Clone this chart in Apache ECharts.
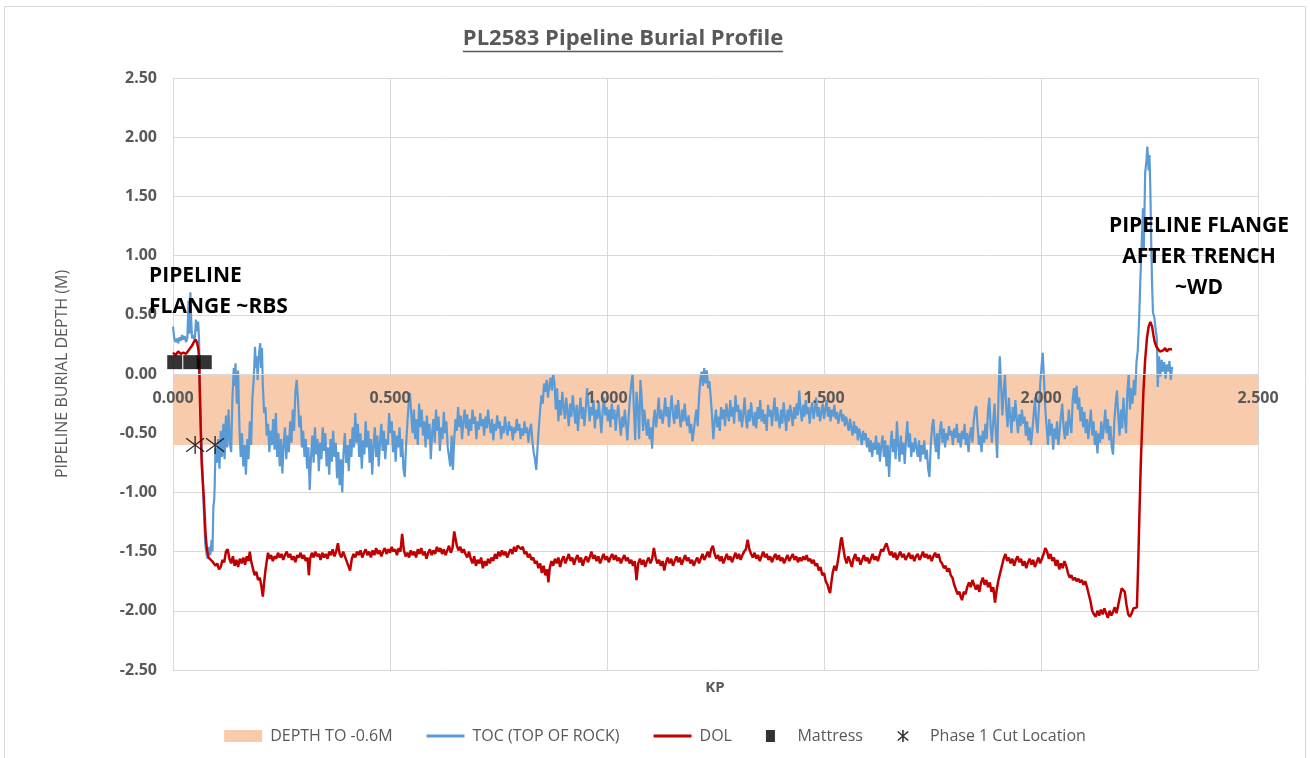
<!DOCTYPE html>
<html>
<head>
<meta charset="utf-8">
<script src="https://cdn.jsdelivr.net/npm/echarts@6/dist/echarts.min.js"></script>
<style>
  html, body { margin: 0; padding: 0; background: #ffffff; }
  #chart { width: 1310px; height: 758px; }
</style>
</head>
<body>
<div id="chart"></div>
<script>
// ---- Survey data (KP in km, depth in m relative to seabed) ----

// Top of rock along the route
const tocProfile = [
  [0.000,0.40],[0.003,0.30],[0.006,0.27],[0.009,0.30],[0.012,0.26],[0.015,0.31],[0.018,0.28],[0.021,0.33],
  [0.024,0.29],[0.027,0.32],[0.030,0.27],[0.033,0.30],[0.036,0.62],[0.038,0.34],[0.040,0.69],[0.042,0.45],
  [0.044,0.30],[0.047,0.33],[0.050,0.28],[0.053,0.46],[0.056,0.36],[0.058,0.44],[0.060,0.30],
  [0.062,-0.10],[0.065,-0.55],[0.068,-0.82],[0.071,-1.15],[0.074,-1.42],[0.077,-1.52],[0.080,-1.56],
  [0.083,-1.46],[0.086,-1.53],[0.089,-1.40],[0.091,-1.50],[0.093,-1.12],[0.095,-1.06],[0.096,-0.95],
  [0.098,-0.62],[0.101,-0.75],[0.104,-0.55],[0.107,-0.80],[0.110,-0.48],[0.113,-0.70],[0.116,-0.42],
  [0.119,-0.72],[0.122,-0.35],[0.125,-0.62],[0.128,-0.30],[0.131,-0.58],[0.134,-0.66],[0.137,-0.20],
  [0.140,0.05],[0.142,-0.10],[0.144,0.09],[0.147,-0.25],[0.150,0.03],[0.153,-0.45],[0.156,-0.70],
  [0.159,-0.50],[0.162,-0.78],[0.165,-0.60],[0.168,-0.85],[0.171,-0.55],[0.174,-0.72],[0.177,-0.40],
  [0.180,-0.60],[0.183,-0.20],[0.186,-0.05],[0.189,0.23],[0.191,0.05],[0.193,0.15],[0.195,-0.05],
  [0.197,0.10],[0.199,0.20],[0.201,0.26],[0.203,0.05],[0.205,0.22],[0.207,-0.10],[0.210,-0.33],
  [0.213,-0.28],[0.216,-0.52],[0.219,-0.42],[0.222,-0.66],[0.225,-0.48],[0.228,-0.60],[0.231,-0.38],
  [0.234,-0.64],[0.237,-0.33],[0.240,-0.70],[0.243,-0.50],[0.246,-0.78],[0.249,-0.55],[0.252,-0.84],
  [0.255,-0.60],[0.258,-0.45],[0.261,-0.72],[0.264,-0.52],[0.267,-0.66],[0.270,-0.40],[0.273,-0.58],
  [0.276,-0.30],[0.279,-0.48],[0.282,-0.15],[0.285,-0.05],[0.288,-0.22],[0.291,-0.45],[0.294,-0.35],
  [0.297,-0.62],[0.300,-0.48],[0.303,-0.70],[0.306,-0.55],[0.309,-0.80],[0.312,-0.62],[0.315,-0.98],
  [0.318,-0.70],[0.321,-0.52],[0.324,-0.75],[0.327,-0.45],[0.330,-0.68],[0.333,-0.55],[0.336,-0.82],
  [0.339,-0.58],[0.342,-0.72],[0.345,-0.45],[0.348,-0.65],[0.351,-0.50],[0.354,-0.78],[0.357,-0.62],
  [0.360,-0.85],[0.363,-0.55],[0.366,-0.74],[0.369,-0.48],[0.372,-0.70],[0.375,-0.58],[0.378,-0.88],
  [0.381,-0.66],[0.384,-0.94],[0.387,-0.72],[0.390,-1.00],[0.393,-0.65],[0.396,-0.50],[0.399,-0.75],
  [0.402,-0.60],[0.405,-0.82],[0.408,-0.55],[0.411,-0.70],[0.414,-0.45],[0.417,-0.62],[0.420,-0.33],
  [0.423,-0.58],[0.426,-0.42],[0.429,-0.70],[0.432,-0.50],[0.435,-0.80],[0.438,-0.56],[0.441,-0.68],
  [0.444,-0.40],[0.447,-0.62],[0.450,-0.48],[0.453,-0.75],[0.456,-0.55],[0.459,-0.85],[0.462,-0.60],
  [0.465,-0.45],[0.468,-0.70],[0.471,-0.52],[0.474,-0.78],[0.477,-0.58],[0.480,-0.42],[0.483,-0.65],
  [0.486,-0.48],[0.489,-0.72],[0.492,-0.55],[0.495,-0.60],[0.498,-0.33],[0.501,-0.50],[0.504,-0.40],
  [0.507,-0.66],[0.510,-0.48],[0.513,-0.74],[0.516,-0.52],[0.519,-0.62],[0.522,-0.45],[0.525,-0.70],
  [0.528,-0.55],[0.531,-0.80],[0.534,-0.87],[0.537,-0.60],[0.540,-0.42],[0.543,-0.25],[0.546,-0.16],
  [0.549,-0.35],[0.552,-0.50],[0.555,-0.30],[0.558,-0.55],[0.561,-0.38],[0.564,-0.60],[0.567,-0.25],
  [0.570,-0.45],[0.573,-0.30],[0.576,-0.52],[0.579,-0.40],[0.582,-0.62],[0.585,-0.35],[0.588,-0.55],
  [0.591,-0.42],[0.594,-0.72],[0.597,-0.50],[0.600,-0.38],[0.603,-0.58],[0.606,-0.30],[0.609,-0.48],
  [0.612,-0.36],[0.615,-0.65],[0.618,-0.45],[0.621,-0.55],[0.624,-0.32],[0.627,-0.50],[0.630,-0.40],
  [0.633,-0.62],[0.636,-0.70],[0.639,-0.78],[0.642,-0.52],[0.645,-0.81],[0.648,-0.55],[0.651,-0.38],
  [0.654,-0.48],[0.657,-0.28],[0.660,-0.45],[0.663,-0.35],[0.666,-0.55],[0.669,-0.40],[0.672,-0.30],
  [0.675,-0.46],[0.678,-0.34],[0.681,-0.52],[0.684,-0.38],[0.687,-0.48],[0.690,-0.30],[0.693,-0.42],
  [0.696,-0.36],[0.699,-0.55],[0.702,-0.40],[0.705,-0.47],[0.708,-0.33],[0.711,-0.44],[0.714,-0.38],
  [0.717,-0.52],[0.720,-0.36],[0.723,-0.46],[0.726,-0.30],[0.729,-0.42],[0.732,-0.50],[0.735,-0.38],
  [0.738,-0.56],[0.741,-0.42],[0.744,-0.48],[0.747,-0.35],[0.750,-0.46],[0.753,-0.40],[0.756,-0.55],
  [0.759,-0.44],[0.762,-0.50],[0.765,-0.36],[0.768,-0.46],[0.771,-0.52],[0.774,-0.40],[0.777,-0.48],
  [0.780,-0.44],[0.783,-0.56],[0.786,-0.45],[0.789,-0.50],[0.792,-0.38],[0.795,-0.48],[0.798,-0.42],
  [0.801,-0.55],[0.804,-0.46],[0.807,-0.52],[0.810,-0.40],[0.813,-0.50],[0.816,-0.45],[0.819,-0.58],
  [0.822,-0.48],[0.825,-0.42],[0.828,-0.56],[0.831,-0.66],[0.834,-0.72],[0.837,-0.81],[0.840,-0.62],
  [0.843,-0.45],[0.846,-0.30],[0.849,-0.18],[0.852,-0.25],[0.855,-0.08],[0.858,-0.15],[0.861,-0.05],
  [0.864,-0.20],[0.867,-0.10],[0.870,-0.03],[0.873,-0.14],[0.876,0.00],[0.879,-0.08],[0.882,-0.30],
  [0.885,-0.12],[0.888,-0.40],[0.891,-0.22],[0.894,-0.35],[0.897,-0.15],[0.900,-0.28],[0.903,-0.38],
  [0.906,-0.20],[0.909,-0.32],[0.912,-0.44],[0.915,-0.25],[0.918,-0.36],[0.921,-0.18],[0.924,-0.30],
  [0.927,-0.42],[0.930,-0.26],[0.933,-0.48],[0.936,-0.32],[0.939,-0.20],[0.942,-0.38],[0.945,-0.28],
  [0.948,-0.44],[0.951,-0.30],[0.954,-0.12],[0.957,-0.25],[0.960,-0.40],[0.963,-0.28],[0.966,-0.35],
  [0.969,-0.22],[0.972,-0.46],[0.975,-0.30],[0.978,-0.38],[0.981,-0.24],[0.984,-0.36],[0.987,-0.50],
  [0.990,-0.32],[0.993,-0.20],[0.996,-0.35],[0.999,-0.28],[1.002,-0.40],[1.005,-0.30],[1.008,-0.45],
  [1.011,-0.25],[1.014,-0.38],[1.017,-0.30],[1.020,-0.48],[1.023,-0.34],[1.026,-0.26],[1.029,-0.40],
  [1.032,-0.52],[1.035,-0.36],[1.038,-0.45],[1.041,-0.30],[1.044,-0.42],[1.047,-0.56],[1.050,-0.35],
  [1.053,-0.20],[1.056,-0.08],[1.059,0.00],[1.062,-0.30],[1.065,-0.56],[1.068,-0.15],[1.071,-0.28],
  [1.074,-0.55],[1.077,-0.05],[1.080,-0.20],[1.083,-0.48],[1.086,-0.30],[1.089,-0.42],[1.092,-0.52],
  [1.095,-0.38],[1.098,-0.55],[1.101,-0.45],[1.104,-0.63],[1.107,-0.40],[1.110,-0.30],[1.113,-0.45],
  [1.116,-0.35],[1.119,-0.20],[1.122,-0.38],[1.125,-0.30],[1.128,-0.42],[1.131,-0.34],[1.134,-0.20],
  [1.137,-0.36],[1.140,-0.28],[1.143,-0.45],[1.146,-0.30],[1.149,-0.18],[1.152,-0.34],[1.155,-0.42],
  [1.158,-0.26],[1.161,-0.38],[1.164,-0.22],[1.167,-0.36],[1.170,-0.45],[1.173,-0.30],[1.176,-0.40],
  [1.179,-0.25],[1.182,-0.38],[1.185,-0.44],[1.188,-0.35],[1.191,-0.50],[1.194,-0.42],[1.197,-0.57],
  [1.200,-0.48],[1.203,-0.38],[1.206,-0.30],[1.209,-0.44],[1.212,-0.20],[1.215,-0.05],[1.218,0.02],
  [1.221,-0.10],[1.224,0.05],[1.227,-0.08],[1.230,0.03],[1.233,-0.12],[1.236,-0.06],[1.239,-0.20],
  [1.242,-0.35],[1.245,-0.55],[1.248,-0.40],[1.251,-0.30],[1.254,-0.45],[1.257,-0.36],[1.260,-0.48],
  [1.263,-0.28],[1.266,-0.38],[1.269,-0.30],[1.272,-0.44],[1.275,-0.25],[1.278,-0.34],[1.281,-0.40],
  [1.284,-0.22],[1.287,-0.36],[1.290,-0.28],[1.293,-0.42],[1.296,-0.18],[1.299,-0.32],[1.302,-0.26],
  [1.305,-0.40],[1.308,-0.30],[1.311,-0.45],[1.314,-0.34],[1.317,-0.20],[1.320,-0.38],[1.323,-0.46],
  [1.326,-0.30],[1.329,-0.40],[1.332,-0.24],[1.335,-0.36],[1.338,-0.44],[1.341,-0.32],[1.344,-0.46],
  [1.347,-0.28],[1.350,-0.38],[1.353,-0.22],[1.356,-0.40],[1.359,-0.30],[1.362,-0.42],[1.365,-0.34],
  [1.368,-0.48],[1.371,-0.26],[1.374,-0.36],[1.377,-0.30],[1.380,-0.44],[1.383,-0.32],[1.386,-0.20],
  [1.389,-0.40],[1.392,-0.28],[1.395,-0.38],[1.398,-0.46],[1.401,-0.30],[1.404,-0.42],[1.407,-0.24],
  [1.410,-0.36],[1.413,-0.48],[1.416,-0.30],[1.419,-0.40],[1.422,-0.26],[1.425,-0.34],[1.428,-0.44],
  [1.431,-0.28],[1.434,-0.38],[1.437,-0.25],[1.440,-0.35],[1.443,-0.14],[1.446,-0.30],[1.449,-0.40],
  [1.452,-0.26],[1.455,-0.36],[1.458,-0.22],[1.461,-0.34],[1.464,-0.28],[1.467,-0.42],[1.470,-0.30],
  [1.473,-0.24],[1.476,-0.38],[1.479,-0.30],[1.482,-0.20],[1.485,-0.36],[1.488,-0.28],[1.491,-0.40],
  [1.494,-0.32],[1.497,-0.25],[1.500,-0.38],[1.503,-0.30],[1.506,-0.22],[1.509,-0.36],[1.512,-0.28],
  [1.515,-0.40],[1.518,-0.30],[1.521,-0.36],[1.524,-0.26],[1.527,-0.38],[1.530,-0.32],[1.533,-0.42],
  [1.536,-0.35],[1.539,-0.30],[1.542,-0.40],[1.545,-0.34],[1.548,-0.44],[1.551,-0.36],[1.554,-0.42],
  [1.557,-0.48],[1.560,-0.38],[1.563,-0.46],[1.566,-0.52],[1.569,-0.40],[1.572,-0.50],[1.575,-0.44],
  [1.578,-0.56],[1.581,-0.46],[1.584,-0.52],[1.587,-0.60],[1.590,-0.48],[1.593,-0.56],[1.596,-0.50],
  [1.599,-0.62],[1.602,-0.54],[1.605,-0.66],[1.608,-0.56],[1.611,-0.70],[1.614,-0.58],[1.617,-0.64],
  [1.620,-0.52],[1.623,-0.68],[1.626,-0.58],[1.629,-0.74],[1.632,-0.60],[1.635,-0.52],[1.638,-0.70],
  [1.641,-0.56],[1.644,-0.78],[1.647,-0.60],[1.650,-0.87],[1.653,-0.62],[1.656,-0.48],[1.659,-0.66],
  [1.662,-0.55],[1.665,-0.72],[1.668,-0.40],[1.671,-0.60],[1.674,-0.74],[1.677,-0.52],[1.680,-0.68],
  [1.683,-0.58],[1.686,-0.76],[1.689,-0.55],[1.692,-0.40],[1.695,-0.62],[1.698,-0.50],[1.701,-0.70],
  [1.704,-0.58],[1.707,-0.66],[1.710,-0.54],[1.713,-0.62],[1.716,-0.70],[1.719,-0.56],[1.722,-0.74],
  [1.725,-0.60],[1.728,-0.68],[1.731,-0.56],[1.734,-0.72],[1.737,-0.64],[1.740,-0.80],[1.743,-0.87],
  [1.746,-0.60],[1.749,-0.45],[1.752,-0.38],[1.755,-0.55],[1.758,-0.66],[1.761,-0.50],[1.764,-0.72],
  [1.767,-0.48],[1.770,-0.40],[1.773,-0.58],[1.776,-0.46],[1.779,-0.62],[1.782,-0.50],[1.785,-0.56],
  [1.788,-0.44],[1.791,-0.52],[1.794,-0.48],[1.797,-0.60],[1.800,-0.46],[1.803,-0.54],[1.806,-0.42],
  [1.809,-0.58],[1.812,-0.50],[1.815,-0.62],[1.818,-0.48],[1.821,-0.55],[1.824,-0.42],[1.827,-0.60],
  [1.830,-0.50],[1.833,-0.66],[1.836,-0.52],[1.839,-0.45],[1.842,-0.58],[1.845,-0.40],[1.848,-0.30],
  [1.851,-0.27],[1.854,-0.45],[1.857,-0.60],[1.860,-0.52],[1.863,-0.66],[1.866,-0.48],[1.869,-0.58],
  [1.872,-0.42],[1.875,-0.55],[1.878,-0.30],[1.881,-0.20],[1.884,-0.45],[1.887,-0.58],[1.890,-0.40],
  [1.893,-0.25],[1.896,-0.50],[1.899,-0.71],[1.902,-0.20],[1.905,0.15],[1.908,-0.10],[1.911,-0.35],
  [1.914,-0.15],[1.917,0.00],[1.920,-0.30],[1.923,-0.45],[1.926,-0.20],[1.929,-0.36],[1.932,-0.50],
  [1.935,-0.28],[1.938,-0.40],[1.941,-0.22],[1.944,-0.38],[1.947,-0.50],[1.950,-0.34],[1.953,-0.44],
  [1.956,-0.30],[1.959,-0.42],[1.962,-0.36],[1.965,-0.52],[1.968,-0.40],[1.971,-0.56],[1.974,-0.45],
  [1.977,-0.60],[1.980,-0.48],[1.983,-0.35],[1.986,-0.20],[1.989,-0.40],[1.992,-0.50],[1.995,-0.30],
  [1.998,-0.10],[2.001,0.05],[2.004,0.18],[2.007,-0.05],[2.010,-0.30],[2.013,-0.45],[2.016,-0.60],
  [2.019,-0.38],[2.022,-0.52],[2.025,-0.42],[2.028,-0.64],[2.031,-0.46],[2.034,-0.55],[2.037,-0.40],
  [2.040,-0.60],[2.043,-0.48],[2.046,-0.35],[2.049,-0.25],[2.052,-0.45],[2.055,-0.55],[2.058,-0.40],
  [2.061,-0.52],[2.064,-0.30],[2.067,-0.42],[2.070,-0.50],[2.073,-0.22],[2.076,-0.12],[2.079,-0.25],
  [2.082,-0.10],[2.085,-0.30],[2.088,-0.20],[2.091,-0.40],[2.094,-0.28],[2.097,-0.45],[2.100,-0.32],
  [2.103,-0.50],[2.106,-0.38],[2.109,-0.55],[2.112,-0.42],[2.115,-0.30],[2.118,-0.52],[2.121,-0.40],
  [2.124,-0.60],[2.127,-0.48],[2.130,-0.67],[2.133,-0.50],[2.136,-0.58],[2.139,-0.40],[2.142,-0.55],
  [2.145,-0.45],[2.148,-0.30],[2.151,-0.50],[2.154,-0.38],[2.157,-0.56],[2.160,-0.44],[2.163,-0.62],
  [2.166,-0.68],[2.169,-0.40],[2.172,-0.25],[2.175,-0.14],[2.178,-0.35],[2.181,-0.52],[2.184,-0.30],
  [2.187,-0.46],[2.190,-0.20],[2.193,-0.38],[2.196,-0.50],[2.199,-0.15],[2.202,0.00],[2.205,-0.30],
  [2.208,-0.12],[2.211,-0.25],[2.214,-0.05],[2.217,-0.18],[2.220,0.10],[2.223,0.20],[2.226,0.45],
  [2.229,0.80],[2.232,1.10],[2.235,1.40],[2.237,1.05],[2.240,1.70],[2.243,1.80],[2.245,1.92],
  [2.248,1.72],[2.250,1.85],[2.252,1.55],[2.254,1.10],[2.256,0.75],[2.258,0.52],[2.261,0.48],
  [2.264,0.38],[2.267,0.30],[2.269,-0.11],[2.272,0.15],[2.275,-0.02],[2.278,0.12],[2.281,0.02],
  [2.284,0.10],[2.287,-0.04],[2.290,0.08],[2.293,0.02],[2.296,0.11],[2.299,-0.05],[2.302,0.06]
];

// Depth of lowering (top of pipe) along the route
const dolProfile = [
  [0.000,0.18],[0.006,0.16],[0.012,0.19],[0.018,0.17],[0.024,0.18],[0.030,0.17],[0.036,0.20],[0.040,0.19],
  [0.044,0.24],[0.048,0.27],[0.052,0.29],[0.055,0.27],[0.058,0.22],[0.060,0.15],[0.062,-0.20],[0.066,-0.75],
  [0.071,-1.05],[0.075,-1.35],[0.078,-1.48],[0.082,-1.55],[0.086,-1.54],[0.090,-1.58],[0.094,-1.57],
  [0.098,-1.62],[0.102,-1.60],[0.106,-1.65],[0.110,-1.63],[0.114,-1.57],[0.118,-1.59],[0.122,-1.50],
  [0.126,-1.48],[0.130,-1.56],[0.134,-1.60],[0.138,-1.54],[0.142,-1.62],[0.146,-1.57],[0.150,-1.63],
  [0.154,-1.56],[0.158,-1.60],[0.162,-1.55],[0.166,-1.61],[0.170,-1.54],[0.174,-1.58],[0.177,-1.50],
  [0.180,-1.58],[0.184,-1.64],[0.188,-1.70],[0.192,-1.67],[0.196,-1.74],[0.200,-1.72],[0.204,-1.80],
  [0.207,-1.88],[0.210,-1.76],[0.213,-1.66],[0.216,-1.58],[0.219,-1.51],[0.222,-1.56],[0.226,-1.53],
  [0.230,-1.58],[0.234,-1.54],[0.238,-1.56],[0.242,-1.51],[0.246,-1.55],[0.250,-1.52],[0.254,-1.57],
  [0.258,-1.53],[0.262,-1.50],[0.266,-1.55],[0.270,-1.52],[0.274,-1.57],[0.278,-1.54],[0.282,-1.59],
  [0.286,-1.53],[0.290,-1.55],[0.294,-1.51],[0.298,-1.56],[0.302,-1.53],[0.306,-1.58],[0.310,-1.55],
  [0.313,-1.70],[0.316,-1.56],[0.320,-1.51],[0.324,-1.55],[0.328,-1.50],[0.332,-1.54],[0.336,-1.52],
  [0.340,-1.57],[0.344,-1.51],[0.348,-1.55],[0.352,-1.52],[0.356,-1.56],[0.360,-1.50],[0.364,-1.53],
  [0.368,-1.48],[0.372,-1.54],[0.376,-1.50],[0.380,-1.43],[0.384,-1.52],[0.388,-1.55],[0.392,-1.50],
  [0.396,-1.54],[0.400,-1.58],[0.404,-1.62],[0.408,-1.66],[0.412,-1.56],[0.416,-1.52],[0.420,-1.55],
  [0.424,-1.50],[0.428,-1.53],[0.432,-1.49],[0.436,-1.55],[0.440,-1.51],[0.444,-1.48],[0.448,-1.53],
  [0.452,-1.50],[0.456,-1.55],[0.460,-1.49],[0.464,-1.53],[0.468,-1.47],[0.472,-1.52],[0.476,-1.49],
  [0.480,-1.54],[0.484,-1.50],[0.488,-1.47],[0.492,-1.52],[0.496,-1.48],[0.500,-1.51],[0.504,-1.46],
  [0.508,-1.50],[0.512,-1.48],[0.516,-1.53],[0.520,-1.47],[0.524,-1.50],[0.528,-1.35],[0.532,-1.49],
  [0.536,-1.54],[0.540,-1.51],[0.544,-1.55],[0.548,-1.49],[0.552,-1.53],[0.556,-1.50],[0.560,-1.55],
  [0.564,-1.48],[0.568,-1.52],[0.572,-1.47],[0.576,-1.53],[0.580,-1.50],[0.584,-1.56],[0.588,-1.51],
  [0.592,-1.48],[0.596,-1.53],[0.600,-1.49],[0.604,-1.52],[0.608,-1.46],[0.612,-1.50],[0.616,-1.47],
  [0.620,-1.52],[0.624,-1.48],[0.628,-1.53],[0.632,-1.49],[0.636,-1.45],[0.640,-1.51],[0.644,-1.47],
  [0.648,-1.33],[0.651,-1.32],[0.654,-1.45],[0.658,-1.49],[0.662,-1.46],[0.666,-1.51],[0.670,-1.48],
  [0.674,-1.52],[0.678,-1.55],[0.682,-1.50],[0.686,-1.56],[0.690,-1.60],[0.694,-1.54],[0.698,-1.62],
  [0.702,-1.57],[0.706,-1.60],[0.710,-1.55],[0.714,-1.64],[0.718,-1.58],[0.722,-1.62],[0.726,-1.56],
  [0.730,-1.60],[0.734,-1.55],[0.738,-1.58],[0.742,-1.52],[0.746,-1.56],[0.750,-1.50],[0.754,-1.54],
  [0.758,-1.49],[0.762,-1.53],[0.766,-1.50],[0.770,-1.55],[0.774,-1.51],[0.778,-1.48],[0.782,-1.52],
  [0.786,-1.46],[0.790,-1.50],[0.794,-1.45],[0.798,-1.44],[0.802,-1.48],[0.806,-1.46],[0.810,-1.52],
  [0.814,-1.50],[0.818,-1.55],[0.822,-1.52],[0.826,-1.57],[0.830,-1.55],[0.834,-1.60],[0.838,-1.58],
  [0.842,-1.64],[0.846,-1.60],[0.850,-1.68],[0.854,-1.62],[0.858,-1.70],[0.862,-1.65],[0.865,-1.76],
  [0.868,-1.64],[0.872,-1.58],[0.876,-1.62],[0.880,-1.56],[0.884,-1.60],[0.888,-1.55],[0.892,-1.63],
  [0.896,-1.57],[0.900,-1.54],[0.904,-1.60],[0.908,-1.56],[0.912,-1.52],[0.916,-1.58],[0.920,-1.55],
  [0.924,-1.61],[0.928,-1.56],[0.932,-1.53],[0.936,-1.59],[0.940,-1.55],[0.944,-1.62],[0.948,-1.57],
  [0.952,-1.54],[0.956,-1.59],[0.960,-1.55],[0.964,-1.50],[0.968,-1.56],[0.972,-1.53],[0.976,-1.58],
  [0.980,-1.54],[0.984,-1.60],[0.988,-1.56],[0.992,-1.52],[0.996,-1.57],[1.000,-1.54],[1.004,-1.59],
  [1.008,-1.55],[1.012,-1.52],[1.016,-1.57],[1.020,-1.53],[1.024,-1.58],[1.028,-1.55],[1.032,-1.60],
  [1.036,-1.56],[1.040,-1.53],[1.044,-1.58],[1.048,-1.55],[1.052,-1.60],[1.056,-1.57],[1.060,-1.62],
  [1.064,-1.58],[1.068,-1.74],[1.072,-1.60],[1.076,-1.56],[1.080,-1.61],[1.084,-1.57],[1.088,-1.63],
  [1.092,-1.58],[1.096,-1.55],[1.100,-1.60],[1.104,-1.56],[1.108,-1.47],[1.112,-1.55],[1.116,-1.60],
  [1.120,-1.57],[1.124,-1.62],[1.128,-1.58],[1.132,-1.66],[1.136,-1.59],[1.140,-1.55],[1.144,-1.60],
  [1.148,-1.56],[1.152,-1.62],[1.156,-1.58],[1.160,-1.54],[1.164,-1.59],[1.168,-1.55],[1.172,-1.61],
  [1.176,-1.57],[1.180,-1.53],[1.184,-1.58],[1.188,-1.55],[1.192,-1.60],[1.196,-1.57],[1.200,-1.62],
  [1.204,-1.58],[1.208,-1.55],[1.212,-1.60],[1.216,-1.56],[1.220,-1.52],[1.224,-1.57],[1.228,-1.54],
  [1.232,-1.50],[1.236,-1.55],[1.240,-1.48],[1.244,-1.45],[1.248,-1.52],[1.252,-1.56],[1.256,-1.53],
  [1.260,-1.58],[1.264,-1.54],[1.268,-1.60],[1.272,-1.56],[1.276,-1.52],[1.280,-1.57],[1.284,-1.54],
  [1.288,-1.59],[1.292,-1.55],[1.296,-1.51],[1.300,-1.56],[1.304,-1.52],[1.308,-1.57],[1.312,-1.53],
  [1.316,-1.50],[1.320,-1.48],[1.324,-1.40],[1.328,-1.48],[1.332,-1.52],[1.336,-1.55],[1.340,-1.51],
  [1.344,-1.56],[1.348,-1.53],[1.352,-1.58],[1.356,-1.54],[1.360,-1.50],[1.364,-1.55],[1.368,-1.52],
  [1.372,-1.57],[1.376,-1.54],[1.380,-1.59],[1.384,-1.55],[1.388,-1.52],[1.392,-1.57],[1.396,-1.53],
  [1.400,-1.58],[1.404,-1.55],[1.408,-1.60],[1.412,-1.56],[1.416,-1.53],[1.420,-1.58],[1.424,-1.55],
  [1.428,-1.52],[1.432,-1.57],[1.436,-1.54],[1.440,-1.59],[1.444,-1.55],[1.448,-1.58],[1.452,-1.54],
  [1.456,-1.57],[1.460,-1.53],[1.464,-1.58],[1.468,-1.56],[1.472,-1.60],[1.476,-1.57],[1.480,-1.62],
  [1.484,-1.60],[1.488,-1.66],[1.492,-1.63],[1.496,-1.70],[1.500,-1.68],[1.504,-1.75],[1.508,-1.78],
  [1.511,-1.82],[1.514,-1.85],[1.517,-1.76],[1.520,-1.68],[1.524,-1.62],[1.528,-1.66],[1.532,-1.58],
  [1.536,-1.48],[1.539,-1.40],[1.541,-1.38],[1.544,-1.46],[1.548,-1.55],[1.552,-1.60],[1.556,-1.54],
  [1.560,-1.58],[1.564,-1.63],[1.568,-1.56],[1.572,-1.52],[1.576,-1.58],[1.580,-1.55],[1.584,-1.61],
  [1.588,-1.57],[1.592,-1.53],[1.596,-1.58],[1.600,-1.55],[1.604,-1.60],[1.608,-1.56],[1.612,-1.52],
  [1.616,-1.57],[1.620,-1.54],[1.624,-1.58],[1.628,-1.53],[1.632,-1.48],[1.636,-1.50],[1.640,-1.46],
  [1.644,-1.43],[1.648,-1.48],[1.652,-1.53],[1.656,-1.50],[1.660,-1.55],[1.664,-1.51],[1.668,-1.57],
  [1.672,-1.53],[1.676,-1.50],[1.680,-1.55],[1.684,-1.52],[1.688,-1.57],[1.692,-1.54],[1.696,-1.51],
  [1.700,-1.56],[1.704,-1.53],[1.708,-1.58],[1.712,-1.54],[1.716,-1.52],[1.720,-1.57],[1.724,-1.54],
  [1.728,-1.50],[1.732,-1.55],[1.736,-1.52],[1.740,-1.56],[1.744,-1.53],[1.748,-1.58],[1.752,-1.54],
  [1.756,-1.51],[1.760,-1.55],[1.764,-1.52],[1.768,-1.58],[1.772,-1.60],[1.776,-1.64],[1.780,-1.62],
  [1.784,-1.67],[1.788,-1.64],[1.792,-1.70],[1.796,-1.72],[1.800,-1.78],[1.804,-1.82],[1.808,-1.86],
  [1.812,-1.84],[1.815,-1.88],[1.818,-1.91],[1.822,-1.84],[1.826,-1.86],[1.830,-1.80],[1.834,-1.76],
  [1.838,-1.80],[1.842,-1.74],[1.846,-1.78],[1.850,-1.82],[1.854,-1.78],[1.858,-1.84],[1.862,-1.76],
  [1.866,-1.72],[1.870,-1.78],[1.874,-1.74],[1.878,-1.80],[1.882,-1.76],[1.886,-1.84],[1.890,-1.80],
  [1.894,-1.93],[1.898,-1.82],[1.902,-1.74],[1.906,-1.68],[1.910,-1.62],[1.914,-1.56],[1.918,-1.52],
  [1.922,-1.58],[1.926,-1.55],[1.930,-1.60],[1.934,-1.56],[1.938,-1.62],[1.942,-1.57],[1.946,-1.54],
  [1.950,-1.59],[1.954,-1.56],[1.958,-1.62],[1.962,-1.58],[1.966,-1.64],[1.970,-1.59],[1.974,-1.56],
  [1.978,-1.61],[1.982,-1.57],[1.986,-1.63],[1.990,-1.59],[1.994,-1.55],[1.998,-1.60],[2.002,-1.56],
  [2.006,-1.52],[2.010,-1.47],[2.014,-1.50],[2.018,-1.56],[2.022,-1.52],[2.026,-1.58],[2.030,-1.55],
  [2.034,-1.62],[2.038,-1.57],[2.042,-1.65],[2.046,-1.60],[2.050,-1.64],[2.054,-1.58],[2.058,-1.62],
  [2.062,-1.68],[2.066,-1.72],[2.070,-1.70],[2.074,-1.74],[2.078,-1.72],[2.082,-1.75],[2.086,-1.73],
  [2.090,-1.76],[2.094,-1.74],[2.098,-1.78],[2.102,-1.75],[2.106,-1.80],[2.110,-1.86],[2.114,-1.92],
  [2.118,-2.00],[2.122,-2.03],[2.126,-2.05],[2.130,-2.00],[2.134,-2.04],[2.138,-1.99],[2.142,-2.03],
  [2.146,-1.98],[2.150,-2.02],[2.154,-2.06],[2.158,-2.00],[2.162,-2.04],[2.166,-2.01],[2.170,-1.97],
  [2.174,-2.02],[2.178,-1.95],[2.182,-1.88],[2.186,-1.81],[2.189,-1.80],[2.193,-1.84],[2.197,-1.95],
  [2.201,-2.03],[2.205,-2.05],[2.209,-2.02],[2.213,-1.98],[2.217,-1.99],[2.221,-1.97],[2.224,-1.60],
  [2.227,-1.15],[2.230,-0.75],[2.233,-0.45],[2.236,-0.15],[2.240,0.12],[2.244,0.30],[2.248,0.40],
  [2.252,0.44],[2.256,0.40],[2.259,0.33],[2.262,0.27],[2.266,0.23],[2.270,0.21],[2.274,0.19],
  [2.278,0.18],[2.282,0.20],[2.286,0.22],[2.290,0.19],[2.294,0.21],[2.298,0.20],[2.302,0.21]
];

// Concrete mattress positions
const mattressPoints = [[0.004, 0.10], [0.041, 0.10], [0.072, 0.10]];

// Phase 1 cut locations
const cutPoints = [[0.051, -0.60], [0.097, -0.60]];

// Target burial band
const bandTop = 0;
const bandBottom = -0.6;

// Axis ranges
const kpMin = 0, kpMax = 2.5, kpStep = 0.5;
const depthMin = -2.5, depthMax = 2.5, depthStep = 0.5;

const titleText = 'PL2583 Pipeline Burial Profile';
const leftNote = 'PIPELINE\nFLANGE ~RBS';
const rightNote = 'PIPELINE FLANGE\nAFTER TRENCH\n~WD';

// ---- Layout & styling ----
const FONT = '"Open Sans", "Liberation Sans", sans-serif';
const GREY = '#595959';
const GRID = '#D9D9D9';
const ASTERISK = 'path://M8,0 L8,16 M1,2 L15,14 M1,14 L15,2';
const LINE_ICON = 'path://M0,0 H36 V3 H0 Z';

const GRID_TOP = 78, GRID_BOTTOM = 88, CHART_H = 758;
const plotHeight = CHART_H - GRID_TOP - GRID_BOTTOM;
// shift of the labelled KP axis from the plot bottom up to the zero-depth line
const kpAxisOffset = -plotHeight * (0 - depthMin) / (depthMax - depthMin);

function measure(text, font) {
  const c = document.createElement('canvas').getContext('2d');
  c.font = font;
  return c.measureText(text).width;
}

const titleSize = 22;
const titleWidth = measure(titleText, 'bold ' + titleSize + 'px "Open Sans"');
const titleCx = 623, titleCy = 39;

const chart = echarts.init(document.getElementById('chart'), null, { renderer: 'canvas' });

chart.setOption({
  backgroundColor: '#ffffff',
  animation: false,
  grid: { left: 173, right: 52, top: GRID_TOP, bottom: GRID_BOTTOM, containLabel: false },
  xAxis: [
    {
      // grid lines only, drawn beneath the burial band
      type: 'value', min: kpMin, max: kpMax, interval: kpStep,
      position: 'top', z: 0,
      axisLine: { show: false, onZero: false },
      axisTick: { show: false },
      axisLabel: { show: false },
      splitLine: { show: true, lineStyle: { color: GRID, width: 1 } }
    },
    {
      // labelled KP axis running along the zero depth line
      type: 'value', min: kpMin, max: kpMax, interval: kpStep,
      position: 'bottom', offset: kpAxisOffset, z: 10,
      axisLine: { show: true, onZero: false, lineStyle: { color: GRID, width: 1 } },
      axisTick: { show: false },
      splitLine: { show: false },
      axisLabel: {
        color: GREY, fontFamily: FONT, fontSize: 16, fontWeight: 'bold', margin: 16,
        formatter: v => v.toFixed(3)
      }
    }
  ],
  yAxis: {
    type: 'value', min: depthMin, max: depthMax, interval: depthStep, z: 0,
    axisLine: { show: true, onZero: false, lineStyle: { color: GRID, width: 1 } },
    axisTick: { show: false },
    splitLine: { show: true, lineStyle: { color: GRID, width: 1 } },
    axisLabel: {
      color: GREY, fontFamily: FONT, fontSize: 16, fontWeight: 'bold', margin: 16,
      formatter: v => v.toFixed(2)
    },
    name: 'PIPELINE BURIAL DEPTH (M)',
    nameLocation: 'middle', nameGap: 103, nameRotate: 90,
    nameTextStyle: { color: GREY, fontFamily: FONT, fontSize: 16 }
  },
  legend: {
    left: 'center', top: 723,
    itemWidth: 38, itemHeight: 12, itemGap: 34,
    textStyle: { color: GREY, fontFamily: FONT, fontSize: 16, padding: [0, 0, 0, 3] },
    data: [
      { name: 'DEPTH TO -0.6M', icon: 'rect' },
      { name: 'TOC (TOP OF ROCK)', icon: LINE_ICON },
      { name: 'DOL', icon: LINE_ICON },
      { name: 'Mattress', icon: 'path://M0,0 H9 V12 H0 Z' },
      { name: 'Phase 1 Cut Location', icon: ASTERISK,
        itemStyle: { color: 'rgba(0,0,0,0)', borderColor: '#000', borderWidth: 1.6 } }
    ]
  },
  series: [
    {
      name: 'DEPTH TO -0.6M', type: 'line', xAxisIndex: 1,
      data: [[kpMin, bandTop], [kpMax, bandTop]],
      symbol: 'none', silent: true,
      lineStyle: { opacity: 0 },
      itemStyle: { color: '#F8CBAD' },
      markArea: {
        silent: true,
        itemStyle: { color: '#F8CBAD', opacity: 1 },
        data: [[{ coord: [kpMin, bandTop] }, { coord: [kpMax, bandBottom] }]]
      },
      z: 1
    },
    {
      name: 'TOC (TOP OF ROCK)', type: 'line', xAxisIndex: 1,
      data: tocProfile, symbol: 'none',
      lineStyle: { color: '#5B9BD5', width: 2.2 },
      itemStyle: { color: '#5B9BD5' },
      z: 3
    },
    {
      name: 'DOL', type: 'line', xAxisIndex: 1,
      data: dolProfile, symbol: 'none',
      lineStyle: { color: '#C00000', width: 2.5 },
      itemStyle: { color: '#C00000' },
      z: 4
    },
    {
      name: 'Mattress', type: 'scatter', xAxisIndex: 1,
      data: mattressPoints, symbol: 'rect', symbolSize: [15, 14],
      itemStyle: { color: '#000000' },
      z: 5
    },
    {
      name: 'Phase 1 Cut Location', type: 'scatter', xAxisIndex: 1,
      data: cutPoints, symbol: ASTERISK, symbolSize: 18,
      itemStyle: { color: 'rgba(0,0,0,0)', borderColor: '#000000', borderWidth: 1.4 },
      z: 5
    }
  ],
  graphic: [
    {
      type: 'rect', silent: true, z: -10,
      shape: { x: 4.5, y: 6.5, width: 1301, height: 760 },
      style: { fill: 'none', stroke: GRID, lineWidth: 1 }
    },
    {
      type: 'text', silent: true,
      x: titleCx, y: titleCy,
      style: {
        text: titleText, fill: GREY, font: 'bold ' + titleSize + 'px ' + FONT,
        textAlign: 'center', textVerticalAlign: 'middle'
      }
    },
    {
      type: 'line', silent: true,
      shape: { x1: titleCx - titleWidth / 2, y1: 51.5, x2: titleCx + titleWidth / 2, y2: 51.5 },
      style: { stroke: GREY, lineWidth: 1.5 }
    },
    {
      type: 'text', silent: true,
      x: 715, y: 688,
      style: {
        text: 'KP', fill: GREY, font: 'bold 15px ' + FONT,
        textAlign: 'center', textVerticalAlign: 'middle'
      }
    },
    {
      type: 'text', silent: true, z: 100,
      x: 149, y: 261,
      style: {
        text: leftNote, fill: '#000000', font: 'bold 21px ' + FONT,
        textAlign: 'left', textVerticalAlign: 'top', lineHeight: 31
      }
    },
    {
      type: 'text', silent: true, z: 100,
      x: 1199, y: 211,
      style: {
        text: rightNote, fill: '#000000', font: 'bold 21px ' + FONT,
        textAlign: 'center', textVerticalAlign: 'top', lineHeight: 31
      }
    }
  ]
});
</script>
</body>
</html>
